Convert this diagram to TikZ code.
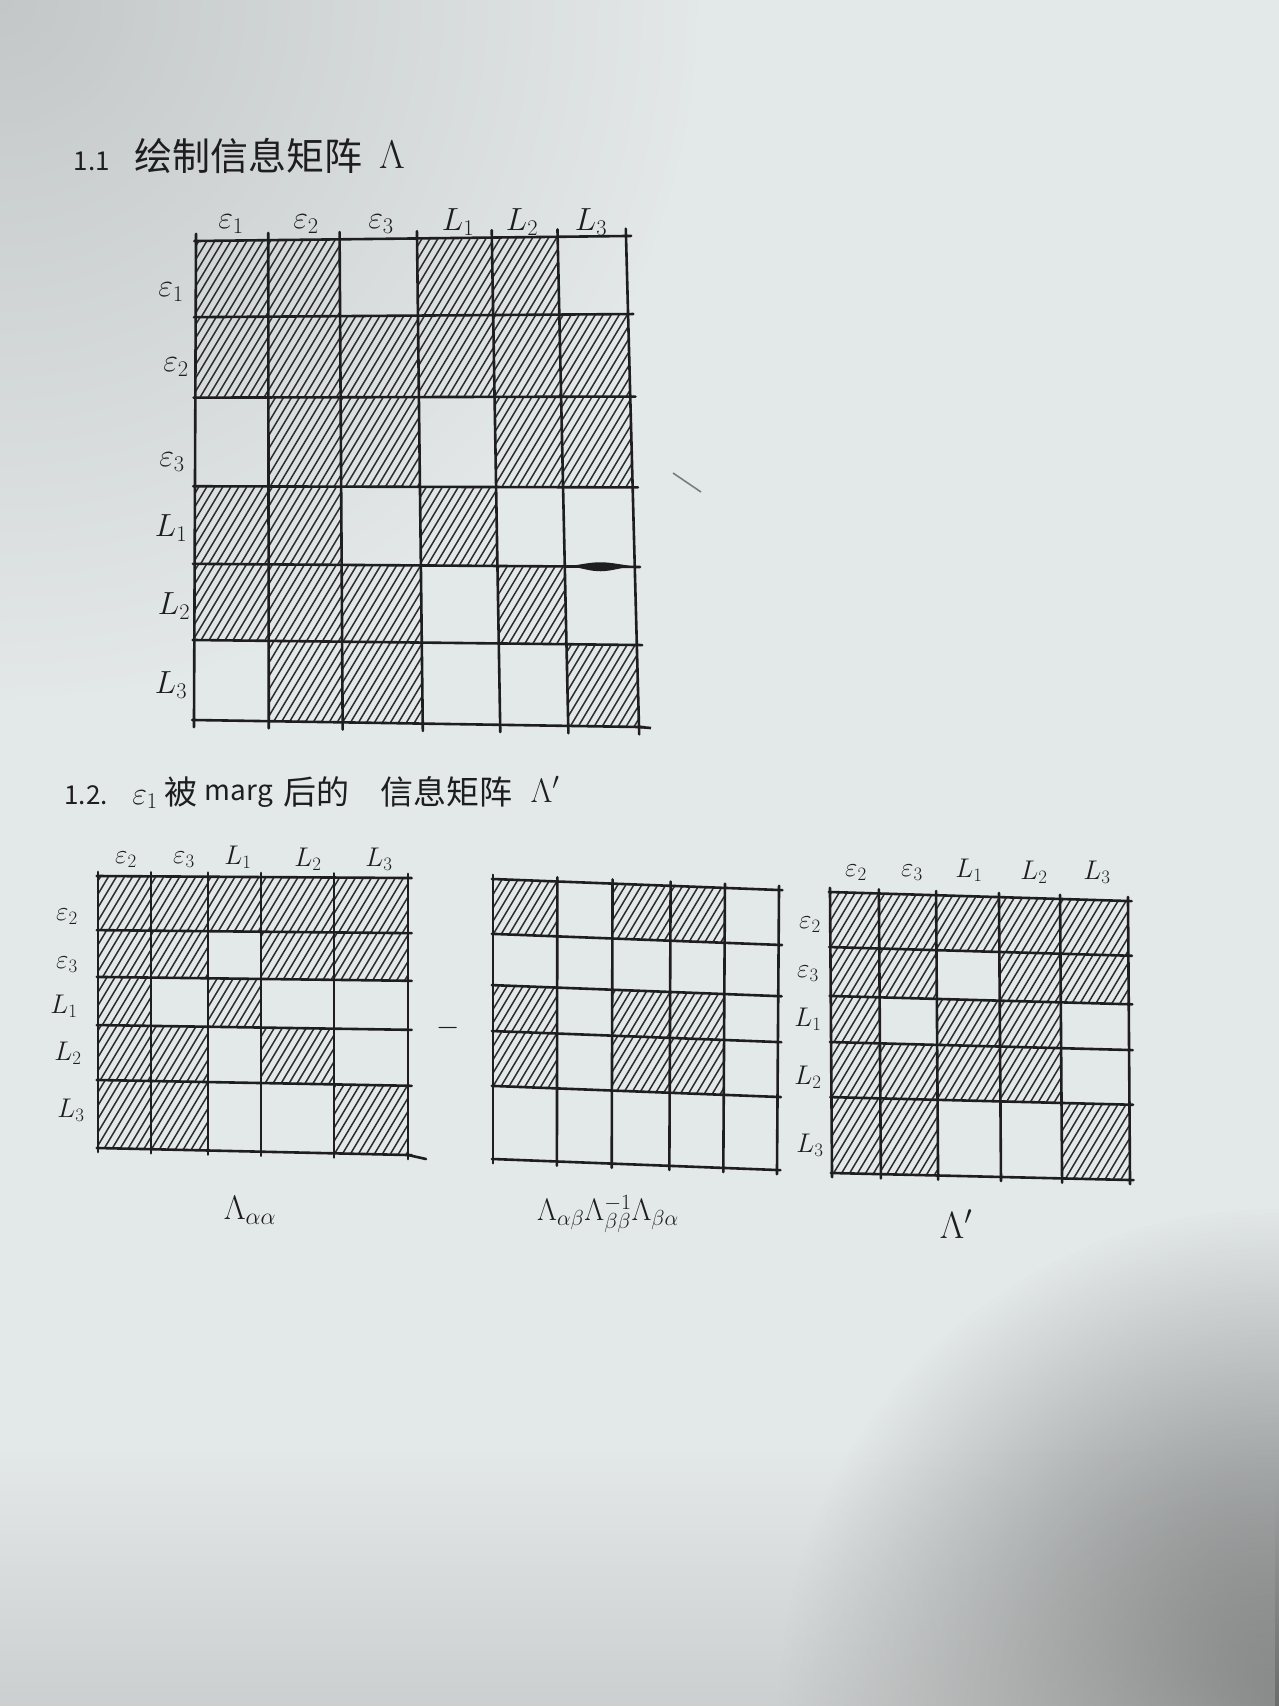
\documentclass[tikz,border=0pt]{standalone}
\usepackage{fix-cm}
\usepackage{fontspec}
\newfontfamily\cjk{Noto Sans CJK SC}
\usetikzlibrary{calc,fadings}
\definecolor{paper}{RGB}{227,232,232}
\definecolor{ink}{RGB}{30,30,30}
\definecolor{hatchink}{RGB}{45,45,45}
\definecolor{stray}{RGB}{120,125,125}
\tikzfading[name=cornerfade, inner color=transparent!20, outer color=transparent!100]
\tikzfading[name=softfade, inner color=transparent!75, outer color=transparent!100]
\tikzfading[name=bottomfade, top color=transparent!100, bottom color=transparent!55]
\tikzset{
  gridline/.style={draw=ink, line width=2.6pt, line cap=round},
  hatchline/.style={draw=hatchink, line width=1.5pt},
  biglabel/.style={font=\fontsize{32}{36}\selectfont, text=ink, inner sep=0pt},
  smalllabel/.style={font=\fontsize{27}{30}\selectfont, text=ink, inner sep=0pt},
  cjktitle/.style={font=\cjk\fontsize{38}{42}\selectfont, text=ink, inner sep=0pt, anchor=base},
  cjksmall/.style={font=\cjk\fontsize{33}{38}\selectfont, text=ink, inner sep=0pt, anchor=base},
  numtext/.style={font=\cjk\fontsize{26}{30}\selectfont, text=ink, inner sep=0pt, anchor=base},
}
% grid coordinates by bilinear interpolation of the four corners
\newcommand\mkgrid[7]{%
  \coordinate (#1TL) at (#2); \coordinate (#1TR) at (#3);
  \coordinate (#1BL) at (#4); \coordinate (#1BR) at (#5);
  \foreach \u [count=\i from 0] in {#6}{%
    \foreach \v [count=\j from 0] in {#7}{%
      \coordinate (#1-\i-\j) at ($ ($(#1TL)!\u!(#1TR)$)!\v!($(#1BL)!\u!(#1BR)$) $);
    }}}
\newcommand\hatchcells[2]{%
  \foreach \ci/\cj in {#2}{%
    \pgfmathtruncatemacro\cii{\ci+1}%
    \pgfmathtruncatemacro\cjj{\cj+1}%
    \begin{scope}
      \clip (#1-\ci-\cj) -- (#1-\cii-\cj) -- (#1-\cii-\cjj) -- (#1-\ci-\cjj) -- cycle;
      \coordinate (hc) at ($(#1-\ci-\cj)!0.5!(#1-\cii-\cjj)$);
      \foreach \k in {-12,...,12}{
        \draw[hatchline] ($(hc)+(\k*8-36,60)$) -- ++(72,-120);
      }
    \end{scope}
  }}
\newcommand\drawgrid[3]{%
  \foreach \i in {0,...,#2}{\draw[gridline] ($(#1-\i-0)!-0.015!(#1-\i-#3)$) -- ($(#1-\i-#3)!-0.015!(#1-\i-0)$);}
  \foreach \j in {0,...,#3}{\draw[gridline] ($(#1-0-\j)!-0.004!(#1-#2-\j)$) -- ($(#1-#2-\j)!-0.012!(#1-0-\j)$);}
}
\begin{document}
\begin{tikzpicture}[x=1pt,y=-1pt]
\useasboundingbox (0,0) rectangle (1279,1706);
% paper
\fill[paper] (0,0) rectangle (1279,1706);
\fill[black!60, path fading=softfade, fit fading=true] (0,0) circle (700);
\fill[black!70, path fading=cornerfade, fit fading=true] (1279,1706) circle (500);
\fill[black!30, path fading=bottomfade, fit fading=true] (0,1450) rectangle (1279,1706);

% ---------- 1.1 title ----------
\node[numtext] (t11num) at (92,170) {1.1};
\node[cjktitle] (t11cjk) at (248,170) {绘制信息矩阵};
\node[font=\fontsize{40}{44}\selectfont, text=ink, inner sep=0pt, anchor=base] (t11lam) at (392,168) {$\Lambda$};

% ---------- matrix Lambda ----------
\mkgrid{G}{196,241}{626,236}{194,720}{639,727}{0,.168,.334,.514,.688,.841,1}{0,.159,.327,.512,.674,.833,1}
\hatchcells{G}{0/0,1/0,3/0,4/0, 0/1,1/1,2/1,3/1,4/1,5/1, 1/2,2/2,4/2,5/2, 0/3,1/3,3/3, 0/4,1/4,2/4,4/4, 1/5,2/5,5/5}
\drawgrid{G}{6}{6}
\draw[ink, line width=2.6pt] (G-6-6) -- ++(12,1);
\coordinate (smA) at (571,566);
\coordinate (smB) at (631,566);
\fill[ink] (smA) .. controls (600,561) .. (smB) .. controls (600,573) .. (smA);
\coordinate (strayA) at (673,473);
\coordinate (strayB) at (701,492);
\draw[stray, line width=1.6pt] (strayA) -- (strayB);

\node[biglabel] (c1) at (231,224) {$\varepsilon_1$};
\node[biglabel] (c2) at (306,224) {$\varepsilon_2$};
\node[biglabel] (c3) at (381,224) {$\varepsilon_3$};
\node[biglabel] (c4) at (458,222) {$L_1$};
\node[biglabel] (c5) at (522,222) {$L_2$};
\node[biglabel] (c6) at (591,222) {$L_3$};
\node[biglabel] (r1) at (171,292) {$\varepsilon_1$};
\node[biglabel] (r2) at (176,367) {$\varepsilon_2$};
\node[biglabel] (r3) at (172,462) {$\varepsilon_3$};
\node[biglabel] (r4) at (171,528) {$L_1$};
\node[biglabel] (r5) at (174,606) {$L_2$};
\node[biglabel] (r6) at (171,685) {$L_3$};

% ---------- 1.2 title ----------
\node[numtext] (t12num) at (86,804) {1.2.};
\node[font=\fontsize{32}{36}\selectfont, text=ink, inner sep=0pt, anchor=base] (t12eps) at (145,804) {$\varepsilon_1$};
\node[cjksmall] (t12bei) at (181,804) {被};
\node[font=\cjk\fontsize{28}{32}\selectfont, text=ink, inner sep=0pt, anchor=base] (t12marg) at (239,800) {marg};
\node[cjksmall] (t12hou) at (316,804) {后的};
\node[cjksmall] (t12xin) at (446,804) {信息矩阵};
\node[font=\fontsize{34}{38}\selectfont, text=ink, inner sep=0pt, anchor=base] (t12lam) at (545,802) {$\Lambda'$};

% ---------- Lambda_aa ----------
\mkgrid{A}{98,876}{408,878}{98,1148}{408,1155}{0,.171,.355,.526,.761,1}{0,.199,.371,.548,.75,1}
\hatchcells{A}{0/0,1/0,2/0,3/0,4/0, 0/1,1/1,3/1,4/1, 0/2,2/2, 0/3,1/3,3/3, 0/4,1/4,4/4}
\drawgrid{A}{5}{5}
\coordinate (Aend) at (426,1159);
\draw[gridline] (A-5-5) -- (Aend);
\node[smalllabel] (ac1) at (126,860) {$\varepsilon_2$};
\node[smalllabel] (ac2) at (184,860) {$\varepsilon_3$};
\node[smalllabel] (ac3) at (238,857) {$L_1$};
\node[smalllabel] (ac4) at (308,859) {$L_2$};
\node[smalllabel] (ac5) at (379,859) {$L_3$};
\node[smalllabel] (ar1) at (67,917) {$\varepsilon_2$};
\node[smalllabel] (ar2) at (67,965) {$\varepsilon_3$};
\node[smalllabel] (ar3) at (64,1006) {$L_1$};
\node[smalllabel] (ar4) at (68,1053) {$L_2$};
\node[smalllabel] (ar5) at (71,1110) {$L_3$};
\node[font=\fontsize{34}{38}\selectfont, text=ink, inner sep=0pt] (alab) at (250,1210) {$\Lambda_{\alpha\alpha}$};

\node[font=\fontsize{30}{32}\selectfont, text=ink, inner sep=0pt] (minus) at (448,1028) {$-$};

% ---------- middle ----------
\mkgrid{M}{493,879}{779,890}{493,1159}{777,1170}{0,.225,.418,.621,.811,1}{0,.196,.379,.543,.739,1}
\hatchcells{M}{0/0,2/0,3/0, 0/2,2/2,3/2, 0/3,2/3,3/3}
\drawgrid{M}{5}{5}
\node[font=\fontsize{31}{36}\selectfont, text=ink, inner sep=0pt] (mlab) at (608,1214) {$\Lambda_{\alpha\beta}\Lambda_{\beta\beta}^{-1}\Lambda_{\beta\alpha}$};

% ---------- Lambda' ----------
\mkgrid{R}{830,892}{1128,901}{832,1173}{1130,1180}{0,.164,.356,.567,.772,1}{0,.196,.37,.534,.73,1}
\hatchcells{R}{0/0,1/0,2/0,3/0,4/0, 0/1,1/1,3/1,4/1, 0/2,2/2,3/2, 0/3,1/3,2/3,3/3, 0/4,1/4,4/4}
\drawgrid{R}{5}{5}
\node[smalllabel] (rc1) at (856,873) {$\varepsilon_2$};
\node[smalllabel] (rc2) at (912,873) {$\varepsilon_3$};
\node[smalllabel] (rc3) at (969,870) {$L_1$};
\node[smalllabel] (rc4) at (1034,872) {$L_2$};
\node[smalllabel] (rc5) at (1097,872) {$L_3$};
\node[smalllabel] (rr1) at (810,925) {$\varepsilon_2$};
\node[smalllabel] (rr2) at (808,974) {$\varepsilon_3$};
\node[smalllabel] (rr3) at (808,1019) {$L_1$};
\node[smalllabel] (rr4) at (808,1077) {$L_2$};
\node[smalllabel] (rr5) at (810,1145) {$L_3$};
\node[font=\fontsize{38}{42}\selectfont, text=ink, inner sep=0pt] (rlab) at (956,1224) {$\Lambda'$};
\end{tikzpicture}
\end{document}
